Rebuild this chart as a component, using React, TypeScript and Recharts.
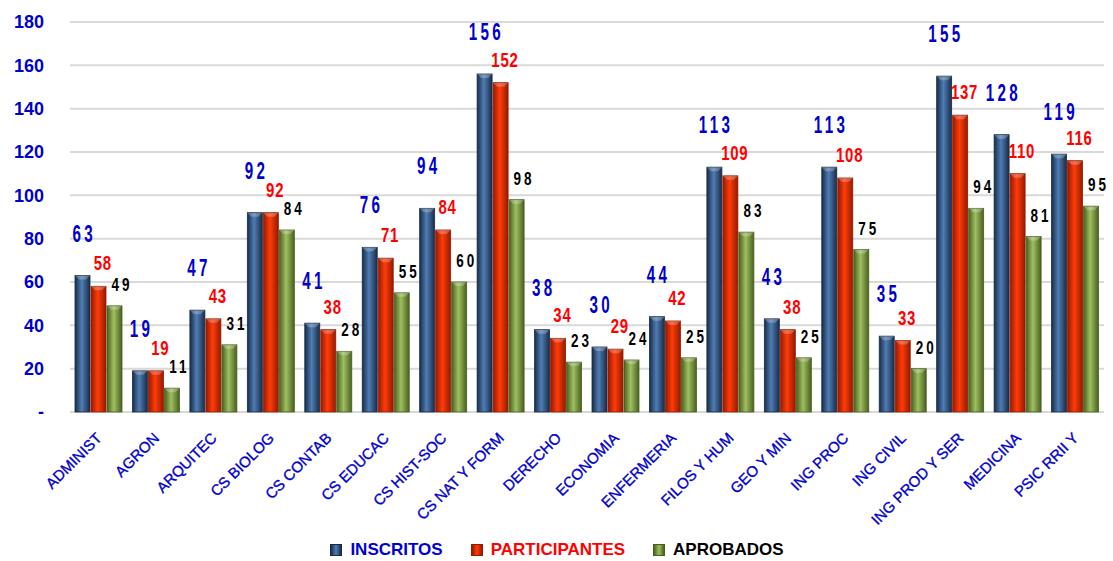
import {
  BarChart, Bar, XAxis, YAxis, CartesianGrid, Legend, LabelList,
} from 'recharts';

const CATEGORIES = [
  'ADMINIST', 'AGRON', 'ARQUITEC', 'CS BIOLOG', 'CS CONTAB', 'CS EDUCAC', 'CS HIST-SOC',
  'CS NAT Y FORM', 'DERECHO', 'ECONOMIA', 'ENFERMERIA', 'FILOS Y HUM', 'GEO Y MIN',
  'ING PROC', 'ING CIVIL', 'ING PROD Y SER', 'MEDICINA', 'PSIC RRII Y',
];
const INSCRITOS = [63, 19, 47, 92, 41, 76, 94, 156, 38, 30, 44, 113, 43, 113, 35, 155, 128, 119];
const PARTICIPANTES = [58, 19, 43, 92, 38, 71, 84, 152, 34, 29, 42, 109, 38, 108, 33, 137, 110, 116];
const APROBADOS = [49, 11, 31, 84, 28, 55, 60, 98, 23, 24, 25, 83, 25, 75, 20, 94, 81, 95];
const Y_TICKS = [0, 20, 40, 60, 80, 100, 120, 140, 160, 180];

const data = CATEGORIES.map((name, i) => ({
  name,
  inscritos: INSCRITOS[i],
  participantes: PARTICIPANTES[i],
  aprobados: APROBADOS[i],
}));

const BLUE_TXT = '#0000CC';
const RED_TXT = '#FF0000';
const SANS = "'Liberation Sans', Arial, sans-serif";

const SERIES = [
  { key: 'inscritos', label: 'INSCRITOS', id: 'gBlue', edge: '#182c48', mid: '#4f7db4', txt: BLUE_TXT, size: 23, sx: 0.66, spacing: 5, dy: 34, dx: 0 },
  { key: 'participantes', label: 'PARTICIPANTES', id: 'gRed', edge: '#951a00', mid: '#ff3c0a', txt: RED_TXT, size: 20, sx: 0.75, spacing: 1, dy: 16, dx: 4 },
  { key: 'aprobados', label: 'APROBADOS', id: 'gGreen', edge: '#48601f', mid: '#9fbf60', txt: '#000000', size: 18, sx: 0.75, spacing: 4, dy: 15, dx: 6 },
];

function BevelBar(props: any) {
  const { x, y, width, height, fill, edge } = props;
  if (!height || height <= 0) return null;
  const b = Math.min(4, height / 2);
  return (
    <g>
      <rect x={x} y={y} width={width} height={height} fill={fill} stroke={edge} strokeWidth={0.8} />
      <polygon points={`${x},${y} ${x + width},${y} ${x + width - b},${y + b} ${x + b},${y + b}`}
        fill="#ffffff" fillOpacity={0.25} />
    </g>
  );
}

// condensed look: squeeze a bold sans horizontally
function makeLabel(color: string, size: number, sx: number, spacing: number, dy: number, dx: number) {
  return (p: any) => {
    const { x, y, width, value } = p;
    const cx = x + width / 2 + dx;
    const cy = y - dy;
    return (
      <text transform={`translate(${cx},${cy}) scale(${sx},1)`} x={spacing / 2} y={0} textAnchor="middle"
        fill={color} fontFamily={SANS} fontWeight="bold" fontSize={size} letterSpacing={spacing}>
        {value}
      </text>
    );
  };
}

function XTick(p: any) {
  const { x, y, payload } = p;
  const tx = x + 4;
  const ty = y + 19;
  return (
    <text x={tx} y={ty} transform={`rotate(-45, ${tx}, ${ty})`} textAnchor="end"
      fill={BLUE_TXT} stroke={BLUE_TXT} strokeWidth={0.35} fontFamily={SANS} fontSize={15}>
      {payload.value}
    </text>
  );
}

function LegendBox() {
  return (
    <div style={{ display: 'flex', justifyContent: 'center', alignItems: 'center', gap: 28, height: 18,
      fontFamily: SANS, fontWeight: 'bold', fontSize: 17 }}>
      {SERIES.map((s) => (
        <div key={s.key} style={{ display: 'flex', alignItems: 'center', gap: 8 }}>
          <span style={{ display: 'inline-block', width: 10, height: 10,
            background: `linear-gradient(90deg, ${s.edge}, ${s.mid}, ${s.edge})`, border: `1px solid ${s.edge}` }} />
          <span style={{ color: s.txt }}>{s.label}</span>
        </div>
      ))}
    </div>
  );
}

export default function App() {
  return (
    <div style={{ position: 'absolute', left: 0, top: 0, width: 1113, height: 561, background: '#fff' }}>
      <BarChart width={1113} height={561} data={data}
        margin={{ top: 22, right: 9, left: 10, bottom: 2 }} barCategoryGap={5} barGap={1}>
        <defs>
          {SERIES.map((s) => (
            <linearGradient key={s.id} id={s.id} x1="0" y1="0" x2="1" y2="0">
              <stop offset="0%" stopColor={s.edge} />
              <stop offset="45%" stopColor={s.mid} />
              <stop offset="100%" stopColor={s.edge} />
            </linearGradient>
          ))}
        </defs>
        <CartesianGrid vertical={false} stroke="#d9d9d9" strokeWidth={2} />
        <XAxis dataKey="name" interval={0} axisLine={false} tickLine={false} height={129} tick={<XTick />} />
        <YAxis domain={[0, 180]} ticks={Y_TICKS} width={60} axisLine={false} tickLine={false} tickMargin={20}
          tickFormatter={(v: number) => (v === 0 ? '-' : String(v))}
          tick={{ fill: BLUE_TXT, fontFamily: SANS, fontWeight: 'bold', fontSize: 18 }} />
        <Legend verticalAlign="bottom" content={<LegendBox />} />
        {SERIES.map((s) => (
          <Bar key={s.key} dataKey={s.key} name={s.label} fill={`url(#${s.id})`} isAnimationActive={false}
            shape={(bp: any) => <BevelBar {...bp} edge={s.edge} />}>
            <LabelList dataKey={s.key} content={makeLabel(s.txt, s.size, s.sx, s.spacing, s.dy, s.dx)} />
          </Bar>
        ))}
      </BarChart>
    </div>
  );
}
